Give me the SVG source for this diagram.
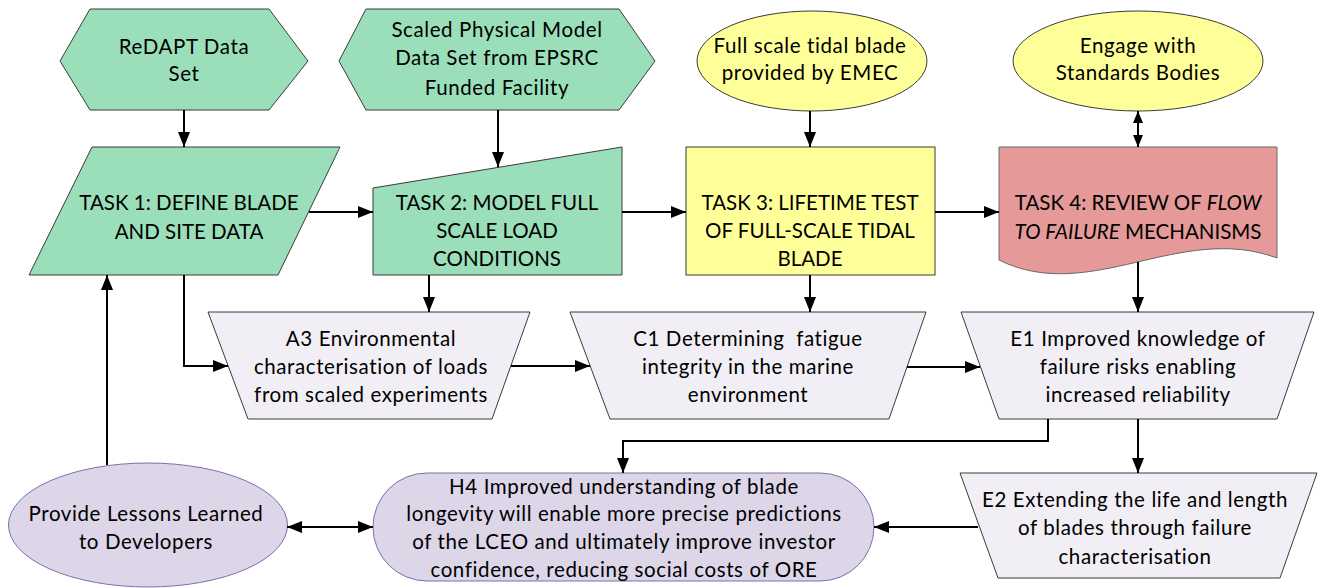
<svg xmlns="http://www.w3.org/2000/svg" width="1319" height="588" viewBox="0 0 1319 588">
  <defs>
    <marker id="arr" viewBox="0 0 15 12" refX="15" refY="6" markerWidth="15" markerHeight="12" markerUnits="userSpaceOnUse" orient="auto-start-reverse">
      <path d="M0,0 L15,6 L0,12 z" fill="#000"/>
    </marker>
    <marker id="arrS" viewBox="0 0 12 10" refX="12" refY="5" markerWidth="12" markerHeight="10" markerUnits="userSpaceOnUse" orient="auto-start-reverse">
      <path d="M0,0 L12,5 L0,10 z" fill="#000"/>
    </marker>
    <style>
      .green { fill: #9bdfba; stroke: #3a3a3a; stroke-width: 1; }
      .yellow { fill: #ffff99; stroke: #3a3a3a; stroke-width: 1; }
      .pink { fill: #e59999; stroke: #6a6a6a; stroke-width: 1; }
      .pale { fill: #f1eff5; stroke: #3a3a3a; stroke-width: 1; }
      .lilac { fill: #dcd6e8; stroke: #7f6fa8; stroke-width: 1; }
      text { font-family: Lato, "Liberation Sans", sans-serif; font-size: 20.5px; letter-spacing: 0.6px; fill: #000; text-anchor: middle; white-space: pre; }
      text.cap { letter-spacing: 0; }
      .conn path { fill: none; stroke: #000; stroke-width: 2; }
    </style>
  </defs>

  <!-- inputs -->
  <g id="redapt">
    <polygon class="green" points="60,61 90,9 269,9 308,61 269,110 90,110"/>
    <text x="184" y="54">ReDAPT Data</text>
    <text x="184" y="81">Set</text>
  </g>
  <g id="scaled-model">
    <polygon class="green" points="339,61 366,9 619,9 655,61 619,110 366,110"/>
    <text x="497" y="37">Scaled Physical Model</text>
    <text x="497" y="65">Data Set from EPSRC</text>
    <text x="497" y="95">Funded Facility</text>
  </g>
  <g id="emec-blade">
    <ellipse class="yellow" cx="812" cy="61" rx="115" ry="50"/>
    <text x="810" y="53">Full scale tidal blade</text>
    <text x="810" y="80">provided by EMEC</text>
  </g>
  <g id="standards">
    <ellipse class="yellow" cx="1138" cy="61" rx="125" ry="50"/>
    <text x="1138" y="53">Engage with</text>
    <text x="1138" y="80">Standards Bodies</text>
  </g>

  <!-- tasks -->
  <g id="task1">
    <polygon class="green" points="92,147 340,147 278,275 29,275"/>
    <text class="cap" x="189" y="210">TASK 1: DEFINE BLADE</text>
    <text class="cap" x="189" y="239">AND SITE DATA</text>
  </g>
  <g id="task2">
    <polygon class="green" points="373,188 622,147 622,275 373,275"/>
    <text class="cap" x="497" y="210">TASK 2: MODEL FULL</text>
    <text class="cap" x="497" y="238">SCALE LOAD</text>
    <text class="cap" x="497" y="266">CONDITIONS</text>
  </g>
  <g id="task3">
    <rect class="yellow" x="686" y="147" width="249" height="128"/>
    <text class="cap" x="810" y="210">TASK 3: LIFETIME TEST</text>
    <text class="cap" x="810" y="238">OF FULL-SCALE TIDAL</text>
    <text class="cap" x="810" y="266">BLADE</text>
  </g>
  <g id="task4">
    <path class="pink" d="M999,147 H1277 V258 C1180,222 1090,305 999,260 Z"/>
    <text class="cap" x="1138" y="210">TASK 4: REVIEW OF <tspan font-style="italic">FLOW</tspan></text>
    <text class="cap" x="1138" y="239"><tspan font-style="italic">TO FAILURE</tspan> MECHANISMS</text>
  </g>

  <!-- outcomes -->
  <g id="a3">
    <polygon class="pale" points="208,312 530,312 492,419 248,419"/>
    <text x="371" y="346">A3 Environmental</text>
    <text x="371" y="374">characterisation of loads</text>
    <text x="371" y="402">from scaled experiments</text>
  </g>
  <g id="c1">
    <polygon class="pale" points="570,312 926,312 889,419 610,419"/>
    <text x="748" y="346" xml:space="preserve">C1 Determining  fatigue</text>
    <text x="748" y="374">integrity in the marine</text>
    <text x="748" y="402">environment</text>
  </g>
  <g id="e1">
    <polygon class="pale" points="961,312 1314,312 1277,419 999,419"/>
    <text x="1138" y="346">E1 Improved knowledge of</text>
    <text x="1138" y="374">failure risks enabling</text>
    <text x="1138" y="402">increased reliability</text>
  </g>
  <g id="e2">
    <polygon class="pale" points="960,473 1317,473 1280,578 998,578"/>
    <text x="1135" y="507">E2 Extending the life and length</text>
    <text x="1135" y="535">of blades through failure</text>
    <text x="1135" y="564">characterisation</text>
  </g>
  <g id="h4">
    <rect class="lilac" x="373" y="473" width="501" height="108" rx="54" ry="54"/>
    <text x="624" y="494">H4 Improved understanding of blade</text>
    <text x="624" y="521">longevity will enable more precise predictions</text>
    <text x="624" y="549">of the LCEO and ultimately improve investor</text>
    <text x="624" y="577">confidence, reducing social costs of ORE</text>
  </g>
  <g id="lessons">
    <ellipse class="lilac" cx="148" cy="525" rx="139.5" ry="62"/>
    <text x="146" y="521">Provide Lessons Learned</text>
    <text x="146" y="549">to Developers</text>
  </g>

  <!-- connectors -->
  <g class="conn">
    <path d="M184,110 V147" marker-end="url(#arr)"/>
    <path d="M498,110 V167" marker-end="url(#arr)"/>
    <path d="M810,111 V147" marker-end="url(#arr)"/>
    <path d="M1138,111 V147" marker-start="url(#arrS)" marker-end="url(#arrS)"/>
    <path d="M309,212 H373" marker-end="url(#arr)"/>
    <path d="M622,212 H686" marker-end="url(#arr)"/>
    <path d="M935,212 H999" marker-end="url(#arr)"/>
    <path d="M429,275 V312" marker-end="url(#arr)"/>
    <path d="M810,275 V312" marker-end="url(#arr)"/>
    <path d="M1138,262 V312" marker-end="url(#arr)"/>
    <path d="M184,275 V366 H228" marker-end="url(#arr)"/>
    <path d="M511,366 H590" marker-end="url(#arr)"/>
    <path d="M907,367 H980" marker-end="url(#arr)"/>
    <path d="M1048,419 V441 H623 V473" marker-end="url(#arr)"/>
    <path d="M1138,419 V473" marker-end="url(#arr)"/>
    <path d="M978,527 H874" marker-end="url(#arr)"/>
    <path d="M287,527 H373" marker-start="url(#arr)" marker-end="url(#arr)"/>
    <path d="M107,465 V275" marker-end="url(#arr)"/>
  </g>
</svg>
